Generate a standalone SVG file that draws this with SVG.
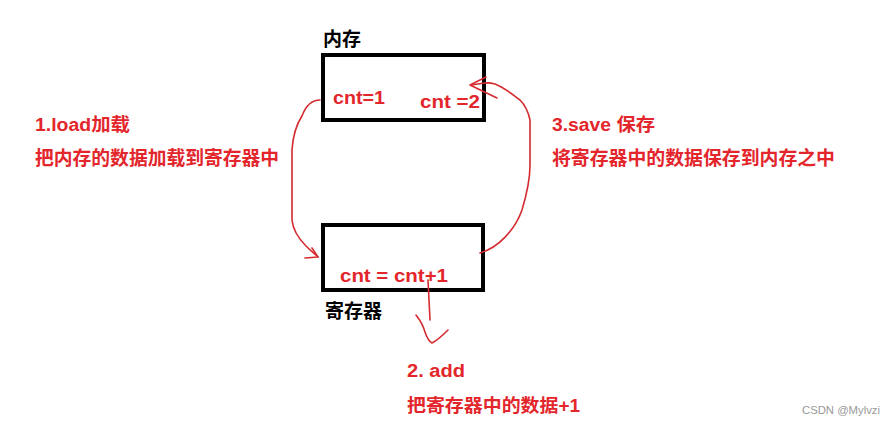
<svg xmlns="http://www.w3.org/2000/svg" width="891" height="427" viewBox="0 0 891 427">
<style>
.box{fill:none;stroke:#000;stroke-width:4}
.t{font-family:"Liberation Sans","Noto Sans CJK SC",sans-serif;font-weight:bold}
.red{fill:#e3262c}
.blk{fill:#000}
.c{fill:none;stroke:#d42a30;stroke-width:1.6;stroke-linecap:round;stroke-linejoin:round}
</style>
<rect width="891" height="427" fill="#fff"/>
<g id="memory">
<rect class="box" x="323" y="55" width="161" height="65"/>
<text class="t blk" x="323" y="46" font-size="19">内存</text>
<text class="t red" x="333" y="104" font-size="18" textLength="52" lengthAdjust="spacingAndGlyphs">cnt=1</text>
<text class="t red" x="420" y="108" font-size="18" textLength="60" lengthAdjust="spacingAndGlyphs">cnt =2</text>
</g>
<g id="register">
<rect class="box" x="323" y="225" width="160" height="65"/>
<text class="t blk" x="325" y="318" font-size="19">寄存器</text>
<text class="t red" x="340" y="282" font-size="18" textLength="108" lengthAdjust="spacingAndGlyphs">cnt = cnt+1</text>
</g>
<g id="load-label">
<text class="t red" x="35" y="131" font-size="18" textLength="95" lengthAdjust="spacingAndGlyphs">1.load加载</text>
<text class="t red" x="35" y="165" font-size="18.8">把内存的数据加载到寄存器中</text>
</g>
<g id="save-label">
<text class="t red" x="552" y="131" font-size="18" textLength="103" lengthAdjust="spacingAndGlyphs">3.save 保存</text>
<text class="t red" x="552" y="165" font-size="19" textLength="283" lengthAdjust="spacingAndGlyphs">将寄存器中的数据保存到内存之中</text>
</g>
<g id="add-label">
<text class="t red" x="407" y="377" font-size="18" textLength="58" lengthAdjust="spacingAndGlyphs">2. add</text>
<text class="t red" x="407" y="412" font-size="18" textLength="173" lengthAdjust="spacingAndGlyphs">把寄存器中的数据+1</text>
</g>
<g id="connectors">
<path class="c" d="M320 100 C310 100 305 108 302 116 C296 125 293 135 292 150 L292 220 C293 230 298 238 306 246 C311 251 315 254 318 257"/>
<path class="c" d="M305 258 L318 257 L312 248"/>
<path class="c" d="M480 253 C498 248 515 230 522 210 C528 190 530 175 530 165 L530 120 C528 110 525 105 520 100 C512 94 505 88 495 84 C488 82 482 83 472 85"/>
<path class="c" d="M486 77 L470 85 L497 98"/>
<path class="c" d="M428 280 L430 320"/>
<path class="c" d="M416 315 C420 320 423 325 425 332 C427 338 430 342 432 343 C438 340 443 335 448 330"/>
</g>
<text x="802" y="414" font-family="Liberation Sans,sans-serif" font-size="11.5" fill="#999" textLength="78" lengthAdjust="spacingAndGlyphs">CSDN @Mylvzi</text>
</svg>
